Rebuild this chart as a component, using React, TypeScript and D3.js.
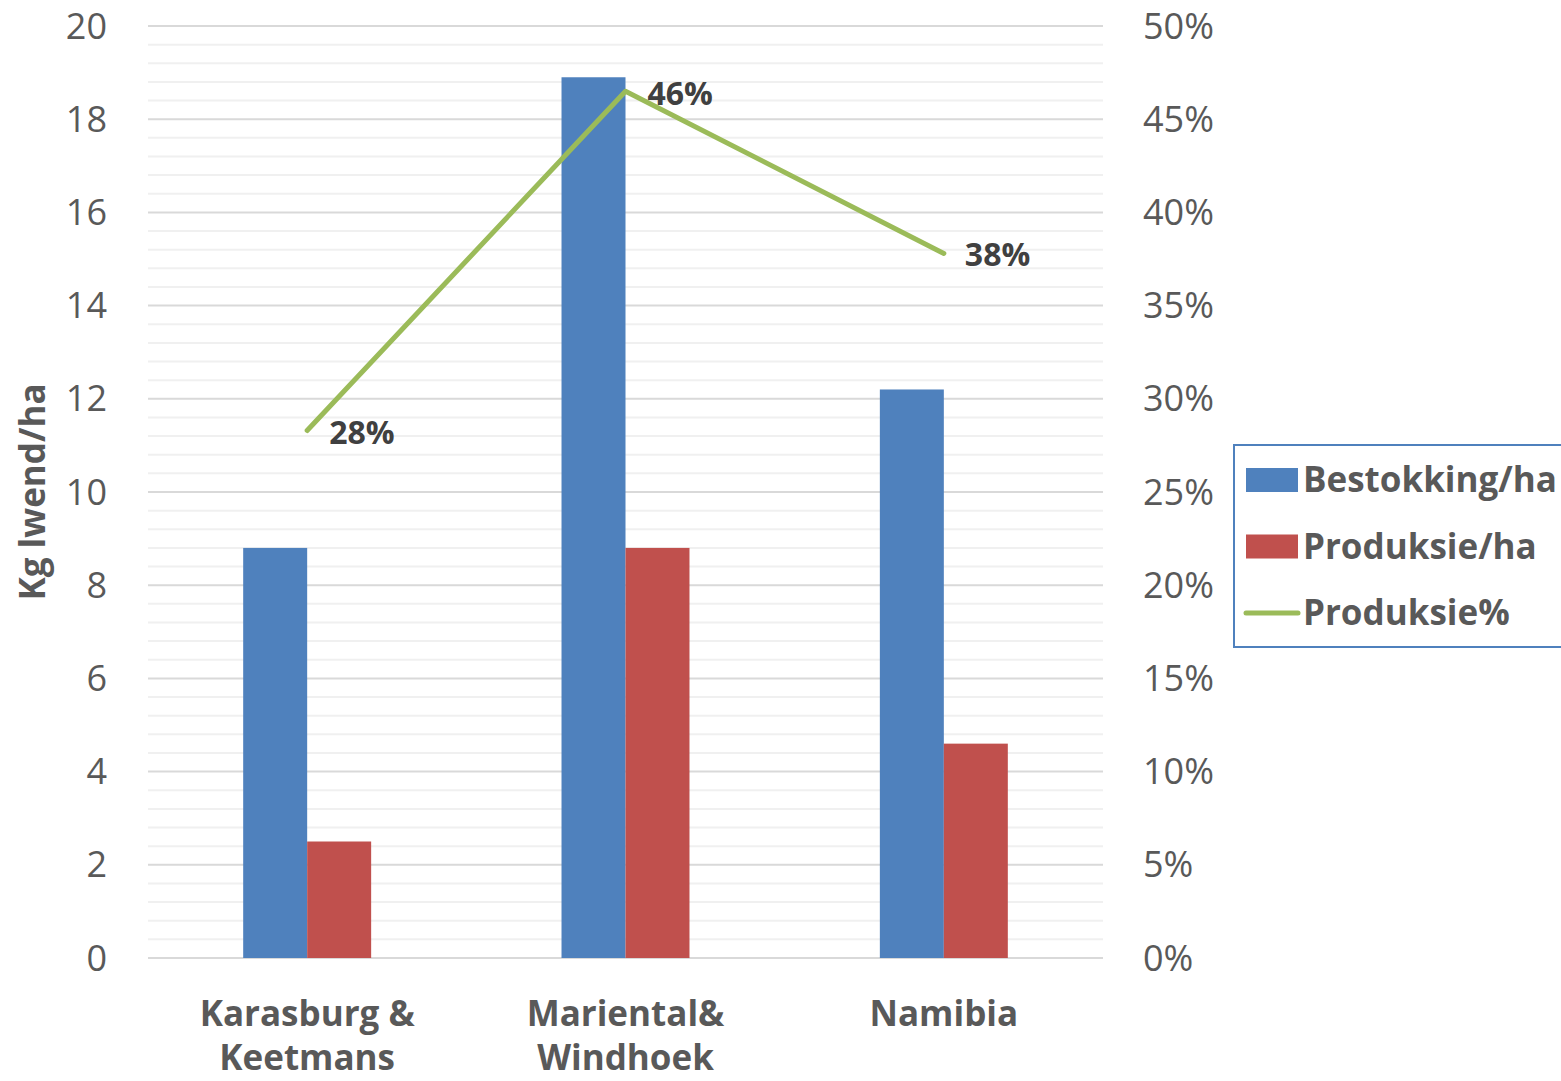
import React from "react";
import * as d3 from "d3";

const categories: string[][] = [["Karasburg &", "Keetmans"], ["Mariental&", "Windhoek"], ["Namibia"]];
const bestokking: number[] = [8.8, 18.9, 12.2];
const produksieHa: number[] = [2.5, 8.8, 4.6];
const produksiePct: number[] = [0.283, 0.465, 0.378];
const pctLabels: string[] = ["28%", "46%", "38%"];
const leftTicks: number[] = [0, 2, 4, 6, 8, 10, 12, 14, 16, 18, 20];
const rightTicks: number[] = [0, 0.05, 0.1, 0.15, 0.2, 0.25, 0.3, 0.35, 0.4, 0.45, 0.5];
const seriesNames: string[] = ["Bestokking/ha", "Produksie/ha", "Produksie%"];

const W = 1561, H = 1081;
const L = 148, R = 1103, T = 26, B = 958;
const BLUE = "#4F81BD", RED = "#C0504D", GREEN = "#9BBB59";
const FONT = "'Open Sans', 'Liberation Sans', sans-serif";

export default function App() {
  const x = d3.scaleBand<number>().domain([0, 1, 2]).range([L, R]).paddingInner(0.598).paddingOuter(0.299);
  const sub = d3.scaleBand<number>().domain([0, 1]).range([0, x.bandwidth()]);
  const y = d3.scaleLinear().domain([0, 20]).range([B, T]);
  const y2 = d3.scaleLinear().domain([0, 0.5]).range([B, T]);
  const minor = d3.range(0, 20.001, 0.4).filter((v) => Math.abs(v / 2 - Math.round(v / 2)) > 1e-6);
  const cx = (i: number) => (x(i) as number) + x.bandwidth() / 2;
  const line = d3.line<number>().x((_, i) => cx(i)).y((d) => y2(d));
  const pctFmt = d3.format(".0%");
  const labelOffsets = [[22, 2], [22, 3], [21, 1]];

  return (
    <svg width={W} height={H} style={{ position: "absolute", left: 0, top: 0, background: "#fff" }}>
      {minor.map((v) => (
        <line key={"m" + v} x1={L} x2={R} y1={y(v)} y2={y(v)} stroke="#F0F0F0" strokeWidth={2} />
      ))}
      {leftTicks.map((v) => (
        <line key={"M" + v} x1={L} x2={R} y1={y(v)} y2={y(v)} stroke="#D9D9D9" strokeWidth={2} />
      ))}
      {leftTicks.map((v) => (
        <text key={"lt" + v} x={107} y={y(v)} dy="0.35em" textAnchor="end" fontFamily={FONT} fontSize={36} fill="#595959">
          {v}
        </text>
      ))}
      {rightTicks.map((v) => (
        <text key={"rt" + v} x={1143} y={y2(v)} dy="0.35em" textAnchor="start" fontFamily={FONT} fontSize={36} fill="#595959">
          {pctFmt(v)}
        </text>
      ))}
      <text transform={`translate(45,${492}) rotate(-90)`} textAnchor="middle" fontFamily={FONT} fontWeight="bold" fontSize={35} fill="#595959">
        Kg lwend/ha
      </text>
      {bestokking.map((v, i) => (
        <rect key={"b" + i} x={(x(i) as number) + (sub(0) as number)} y={y(v)} width={sub.bandwidth()} height={B - y(v)} fill={BLUE} />
      ))}
      {produksieHa.map((v, i) => (
        <rect key={"r" + i} x={(x(i) as number) + (sub(1) as number)} y={y(v)} width={sub.bandwidth()} height={B - y(v)} fill={RED} />
      ))}
      <path d={line(produksiePct) || ""} fill="none" stroke={GREEN} strokeWidth={5} strokeLinejoin="round" strokeLinecap="round" />
      {produksiePct.map((v, i) => (
        <text key={"pl" + i} x={cx(i) + labelOffsets[i][0]} y={y2(v) + labelOffsets[i][1]} dy="0.35em" fontFamily={FONT} fontWeight="bold" fontSize={32} fill="#404040">
          {pctLabels[i]}
        </text>
      ))}
      {categories.map((lines, i) => (
        <text key={"c" + i} x={cx(i)} y={1026} textAnchor="middle" fontFamily={FONT} fontWeight="bold" fontSize={35} fill="#595959">
          {lines.map((t, j) => (
            <tspan key={j} x={cx(i)} dy={j === 0 ? 0 : 44}>{t}</tspan>
          ))}
        </text>
      ))}
      <rect x={1234} y={445} width={340} height={202} fill="#fff" stroke={BLUE} strokeWidth={2} />
      {seriesNames.map((n, i) => {
        const cy = 480 + i * 66.5;
        return (
          <g key={"lg" + i}>
            {i < 2 ? (
              <rect x={1246} y={cy - 12} width={52} height={24} fill={i === 0 ? BLUE : RED} />
            ) : (
              <line x1={1246} x2={1298} y1={cy} y2={cy} stroke={GREEN} strokeWidth={5} strokeLinecap="round" />
            )}
            <text x={1303} y={cy} dy="0.35em" fontFamily={FONT} fontWeight="bold" fontSize={35} fill="#595959">
              {n}
            </text>
          </g>
        );
      })}
    </svg>
  );
}
